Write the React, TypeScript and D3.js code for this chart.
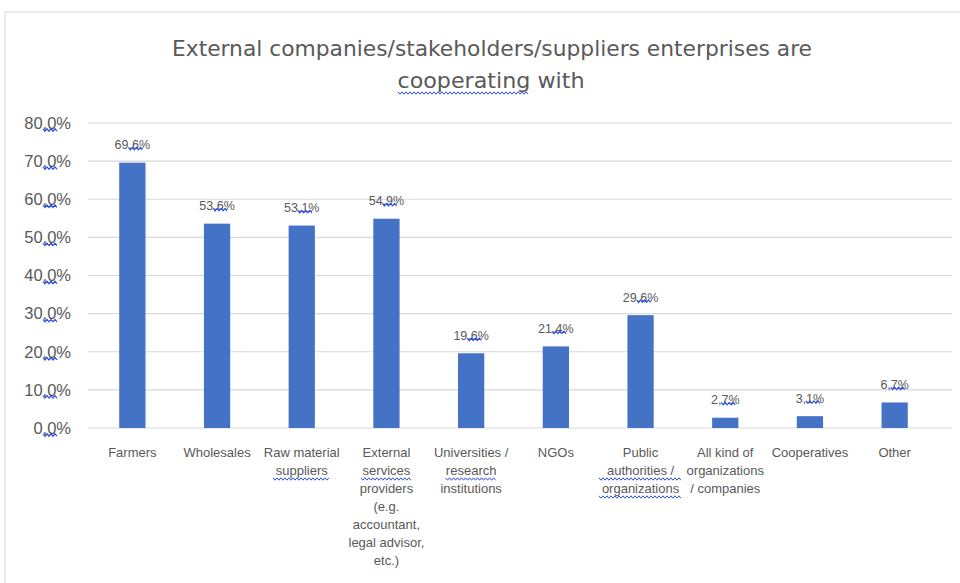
import React from "react";
import * as d3 from "d3";

const categories = [
  "Farmers",
  "Wholesales",
  "Raw material suppliers",
  "External services providers (e.g. accountant, legal advisor, etc.)",
  "Universities / research institutions",
  "NGOs",
  "Public authorities / organizations",
  "All kind of organizations / companies",
  "Cooperatives",
  "Other",
];
const values = [69.6, 53.6, 53.1, 54.9, 19.6, 21.4, 29.6, 2.7, 3.1, 6.7];
const labelLines = [
  ["Farmers"],
  ["Wholesales"],
  ["Raw material", "suppliers"],
  ["External", "services", "providers", "(e.g.", "accountant,", "legal advisor,", "etc.)"],
  ["Universities /", "research", "institutions"],
  ["NGOs"],
  ["Public", "authorities /", "organizations"],
  ["All kind of", "organizations", "/ companies"],
  ["Cooperatives"],
  ["Other"],
];
const flaggedLines = [[], [], [1], [1], [1], [], [1, 2], [], [], []];
const yTicks = [0, 10, 20, 30, 40, 50, 60, 70, 80];
const titleLines = ["External companies/stakeholders/suppliers enterprises are", "cooperating with"];

const W = 960;
const H = 583;
const GRAY = "#595959";
const BLUE = "#4472C4";
const SQ = "#2f4fe0";
const FONT = "'Liberation Sans', Arial, sans-serif";
const TITLE_FONT = "'DejaVu Sans', sans-serif";

const fmt = (v: number) => d3.format(".1f")(v).replace(".", ",") + "%";

function squigglePath(x0: number, x1: number, y: number) {
  const pts: [number, number][] = [];
  let up = true;
  for (let x = x0; x <= x1; x += 2) {
    pts.push([x, y + (up ? -1.2 : 1.2)]);
    up = !up;
  }
  return d3.line()(pts) || "";
}

export default function App() {
  const y = d3.scaleLinear().domain([0, 80]).range([428, 123]);
  const x = d3
    .scaleBand<string>()
    .domain(categories)
    .range([90, 937])
    .paddingInner(0.69)
    .paddingOuter(0.345);

  const gridX0 = 88;
  const gridX1 = 952;
  const lineH = 18;
  const labelY0 = 457;

  return (
    <svg
      width={W}
      height={H}
      style={{ position: "absolute", left: 0, top: 0, background: "#fff" }}
      fontFamily={FONT}
    >
      <rect x={5} y={12} width={1000} height={1000} fill="#fff" stroke="#e3e3e3" strokeWidth={1.5} />

      {/* title */}
      <text
        x={492}
        y={56}
        textAnchor="middle"
        fontSize={22}
        fill={GRAY}
        textLength={640}
        lengthAdjust="spacingAndGlyphs"
        fontFamily={TITLE_FONT}
        style={{ fontStretch: "condensed" }}
      >
        {titleLines[0]}
      </text>
      <text
        x={491}
        y={88}
        textAnchor="middle"
        fontSize={22}
        fill={GRAY}
        textLength={187}
        lengthAdjust="spacingAndGlyphs"
        fontFamily={TITLE_FONT}
        style={{ fontStretch: "condensed" }}
      >
        {titleLines[1]}
      </text>
      <path d={squigglePath(398, 528, 93)} stroke={SQ} strokeWidth={1} fill="none" />

      {/* gridlines */}
      {yTicks.map((t) => (
        <line key={"g" + t} x1={gridX0} x2={gridX1} y1={y(t)} y2={y(t)} stroke="#d9d9d9" strokeWidth={1.2} />
      ))}

      {/* y tick labels */}
      {yTicks.map((t) => (
        <g key={"t" + t}>
          <text x={71} y={y(t)} dy="0.35em" textAnchor="end" fontSize={16.5} fill={GRAY}>
            {fmt(t)}
          </text>
          <path d={squigglePath(43, 58, y(t) + 7)} stroke={SQ} strokeWidth={1.2} fill="none" />
        </g>
      ))}

      {/* bars */}
      {categories.map((c, i) => (
        <rect
          key={"b" + c}
          x={x(c)}
          y={y(values[i])}
          width={x.bandwidth()}
          height={y(0) - y(values[i])}
          fill={BLUE}
        />
      ))}

      {/* data labels */}
      {categories.map((c, i) => {
        const cx = (x(c) || 0) + x.bandwidth() / 2;
        const ly = y(values[i]) - 18;
        return (
          <g key={"l" + c}>
            <text x={cx} y={ly} dy="0.35em" textAnchor="middle" fontSize={12.5} fill={GRAY}>
              {fmt(values[i])}
            </text>
            <path d={squigglePath(cx - 4, cx + 10, ly + 4)} stroke={SQ} strokeWidth={1.2} fill="none" />
          </g>
        );
      })}

      {/* x labels */}
      {categories.map((c, i) => {
        const cx = (x(c) || 0) + x.bandwidth() / 2;
        return (
          <g key={"x" + c}>
            {labelLines[i].map((ln, j) => {
              const ty = labelY0 + j * lineH;
              const w = ln.length * 6.4;
              return (
                <g key={j}>
                  <text x={cx} y={ty} textAnchor="middle" fontSize={13} fill={GRAY}>
                    {ln}
                  </text>
                  {flaggedLines[i].includes(j) && (
                    <path
                      d={squigglePath(cx - w / 2, cx + w / 2, ty + 4)}
                      stroke={SQ}
                      strokeWidth={1}
                      fill="none"
                    />
                  )}
                </g>
              );
            })}
          </g>
        );
      })}
    </svg>
  );
}
